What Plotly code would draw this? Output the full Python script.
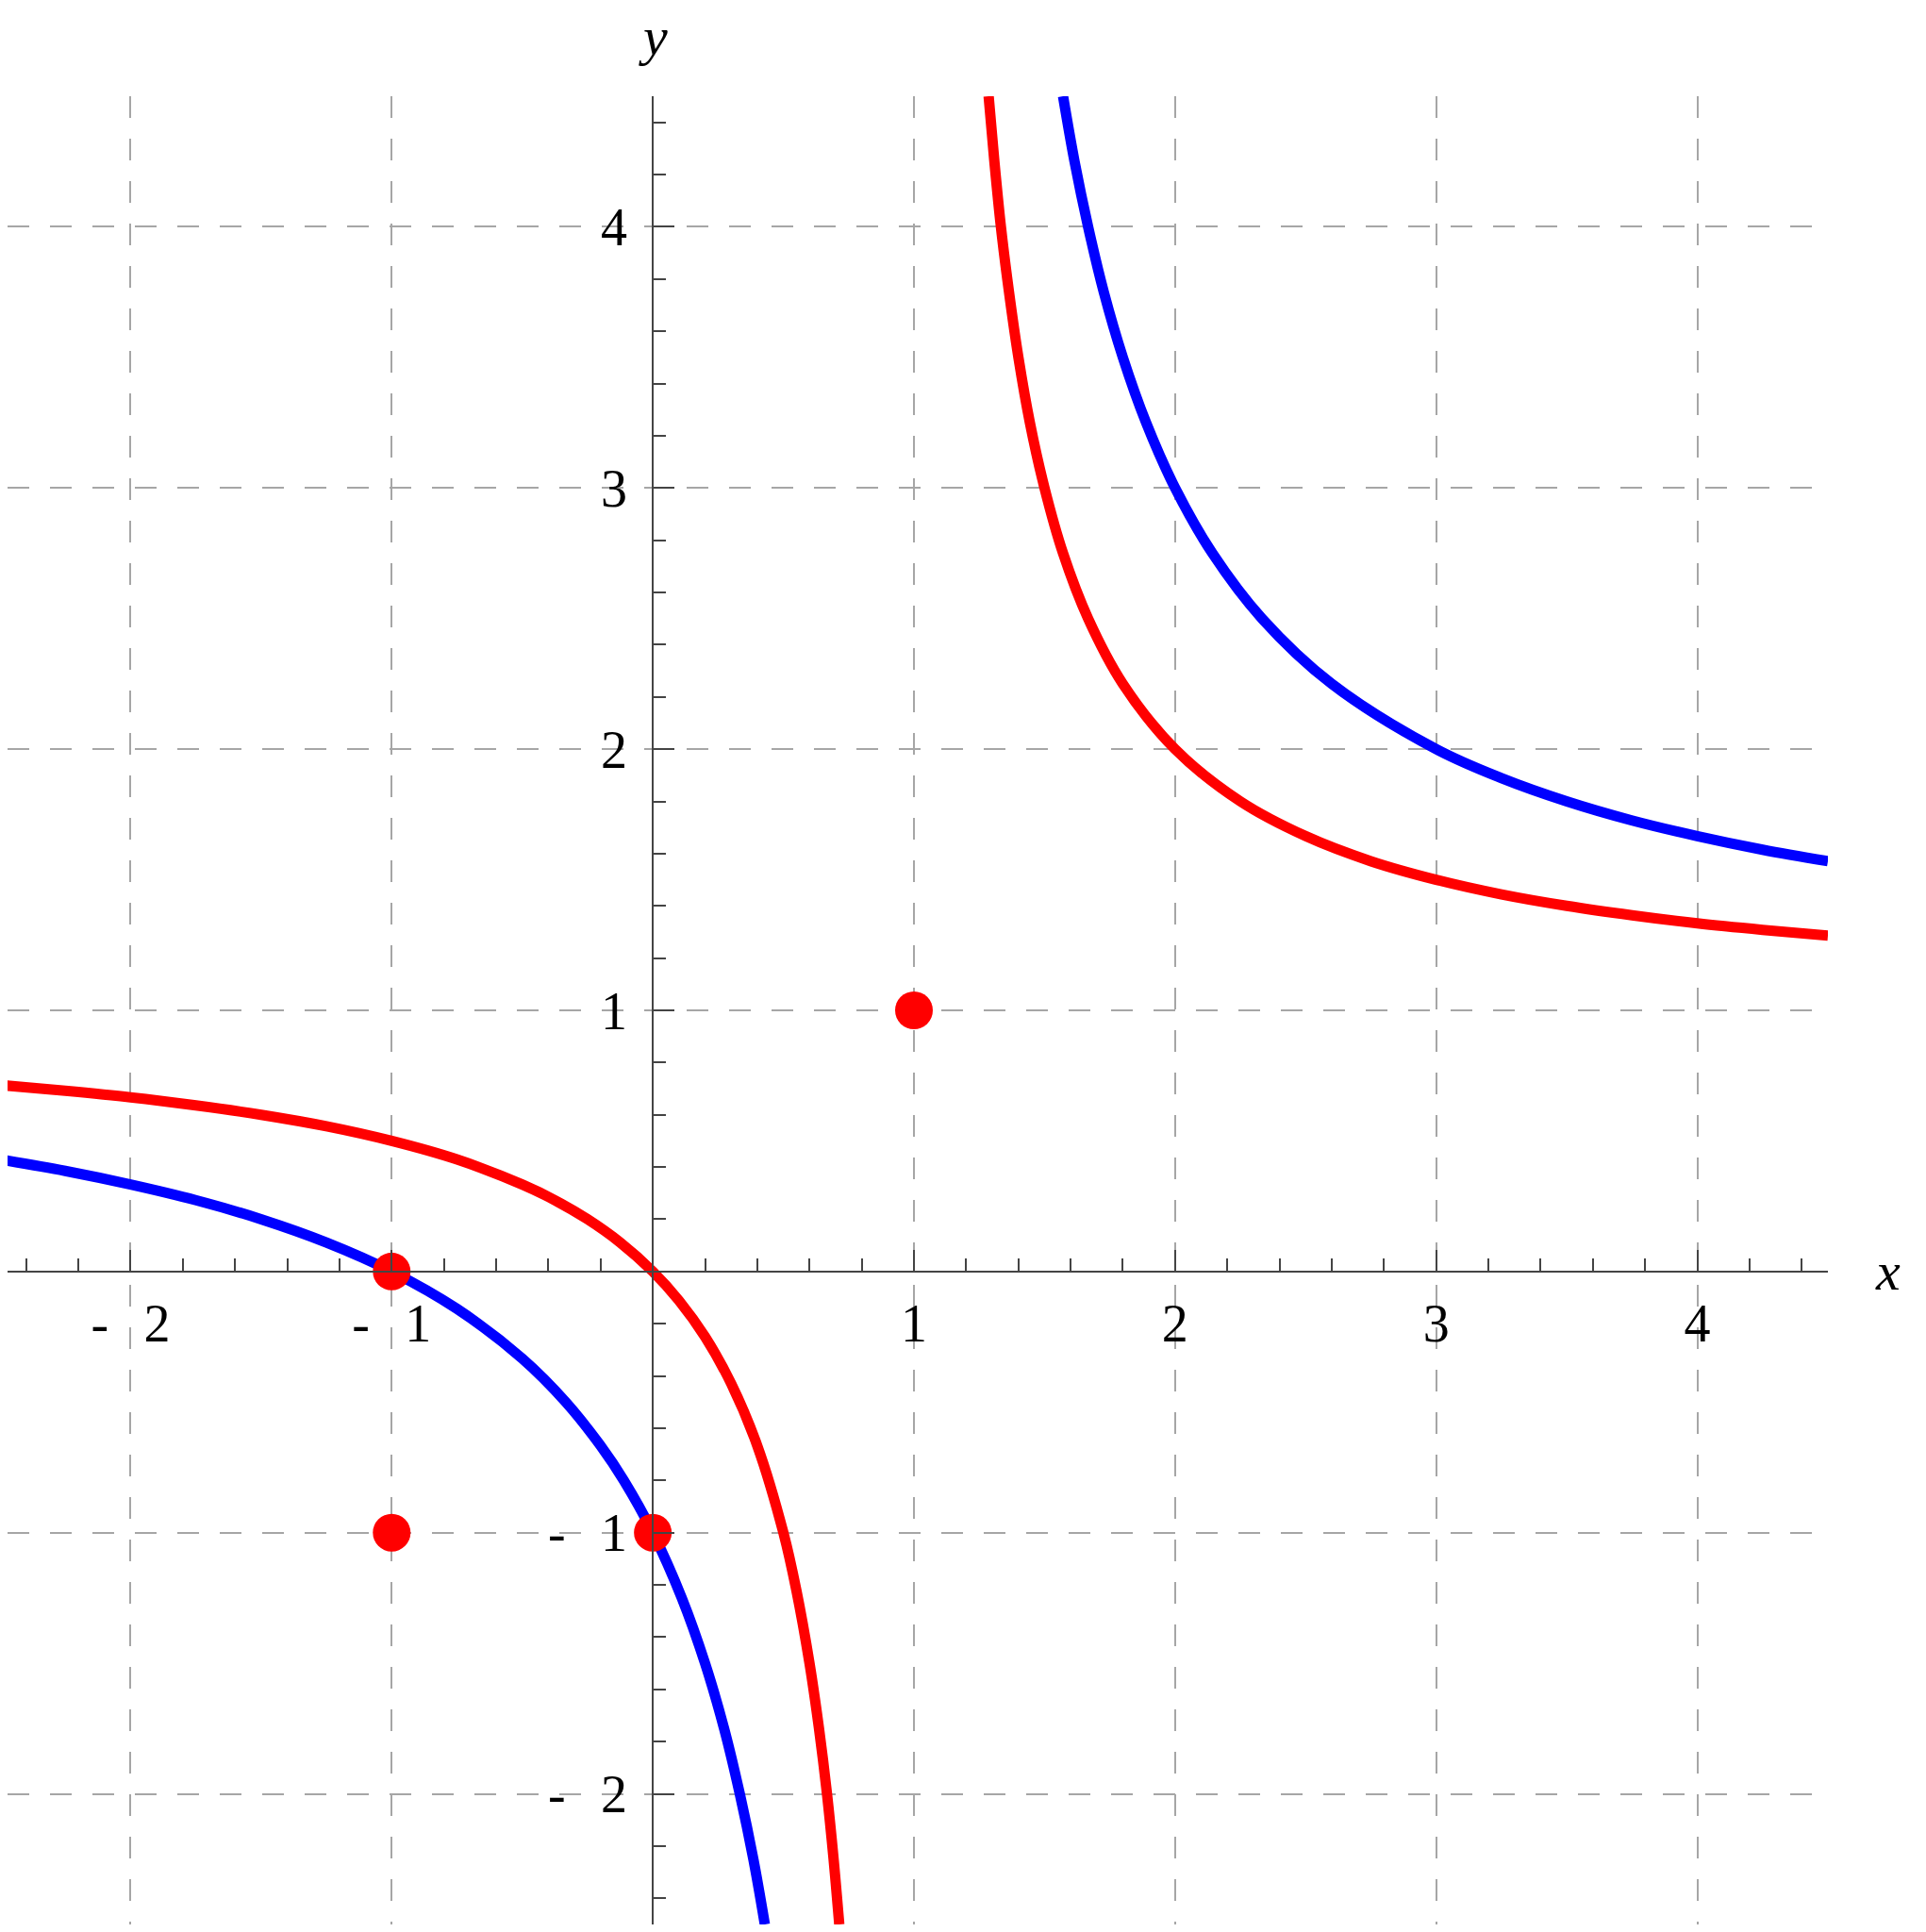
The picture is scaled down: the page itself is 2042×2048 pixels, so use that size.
import plotly.graph_objects as go

# values
red_left_x = [-2.5, -2.25, -2.0, -1.75, -1.5, -1.25, -1.0, -0.75, -0.5, -0.375, -0.25, -0.125,
              0.0, 0.1, 0.2, 0.3, 0.4, 0.5, 0.55, 0.6, 0.636, 0.667, 0.692, 0.714]
red_left_y = [0.714, 0.692, 0.667, 0.636, 0.6, 0.556, 0.5, 0.429, 0.333, 0.273, 0.2, 0.111,
              0.0, -0.111, -0.25, -0.429, -0.667, -1.0, -1.222, -1.5, -1.747, -2.0, -2.247, -2.5]
red_right_x = [1.286, 1.308, 1.333, 1.364, 1.4, 1.444, 1.5, 1.571, 1.667, 1.8, 2.0, 2.25, 2.5,
               2.75, 3.0, 3.25, 3.5, 3.75, 4.0, 4.25, 4.5]
red_right_y = [4.5, 4.25, 4.0, 3.75, 3.5, 3.25, 3.0, 2.75, 2.5, 2.25, 2.0, 1.8, 1.667,
               1.571, 1.5, 1.444, 1.4, 1.364, 1.333, 1.308, 1.286]

blue_left_x = [-2.5, -2.25, -2.0, -1.75, -1.5, -1.25, -1.0, -0.75, -0.5, -0.333, -0.2, -0.111,
               0.0, 0.111, 0.2, 0.273, 0.333, 0.385, 0.429]
blue_left_y = [0.429, 0.385, 0.333, 0.273, 0.2, 0.111, 0.0, -0.143, -0.333, -0.5, -0.667, -0.8,
               -1.0, -1.25, -1.5, -1.75, -2.0, -2.25, -2.5]
blue_right_x = [1.571, 1.615, 1.667, 1.727, 1.8, 1.889, 2.0, 2.143, 2.333, 2.6, 3.0, 3.25, 3.5,
                3.75, 4.0, 4.25, 4.5]
blue_right_y = [4.5, 4.25, 4.0, 3.75, 3.5, 3.25, 3.0, 2.75, 2.5, 2.25, 2.0, 1.889, 1.8,
                1.727, 1.667, 1.615, 1.571]

dots_x = [1, -1, -1, 0]
dots_y = [1, -1, 0, -1]

GAP = "\u00a0\u00a0\u2006"
x_ticks = [-2, -1, 1, 2, 3, 4]
x_labels = ["-" + GAP + "2", "-" + GAP + "1", "1", "2", "3", "4"]
y_ticks = [-2, -1, 1, 2, 3, 4]
y_labels = ["-" + GAP + "2", "-" + GAP + "1", "1", "2", "3", "4"]

RED = "#ff0000"
BLUE = "#0000ff"
FONT = "Liberation Serif"

# the page body adds 8px around the figure, so the left end of x is cut by that much
x_lo, x_hi = -2.5 + 8 / 276.857, 4.5
y_lo, y_hi = -2.5, 4.5

fig = go.Figure()

for xs, ys in [(red_left_x, red_left_y), (red_right_x, red_right_y)]:
    fig.add_trace(go.Scatter(x=xs, y=ys, mode="lines",
                             line=dict(color=RED, width=11, shape="spline", smoothing=1.0)))
for xs, ys in [(blue_left_x, blue_left_y), (blue_right_x, blue_right_y)]:
    fig.add_trace(go.Scatter(x=xs, y=ys, mode="lines",
                             line=dict(color=BLUE, width=11, shape="spline", smoothing=1.0)))

fig.add_trace(go.Scatter(x=dots_x, y=dots_y, mode="markers",
                         marker=dict(color=RED, size=40), cliponaxis=False))

axis_common = dict(
    anchor="free",
    automargin=False,
    showline=True, linecolor="#444", linewidth=2,
    ticks="inside", ticklen=22, tickwidth=2, tickcolor="#444",
    showgrid=True, gridcolor="#a6a6a6", gridwidth=1.5, griddash="23px,22px",
    zeroline=False,
    minor=dict(ticks="inside", ticklen=13, tickwidth=1.5, tickcolor="#444",
               tick0=0, dtick=0.2, showgrid=False),
    tickfont=dict(family=FONT, size=56, color="black"),
    fixedrange=True,
)

x0_paper = -x_lo / (x_hi - x_lo)
y0_paper = -y_lo / (y_hi - y_lo)

fig.update_layout(
    width=2034, height=2040,
    margin=dict(l=0, r=104, t=94, b=8),
    plot_bgcolor="white", paper_bgcolor="white",
    showlegend=False,
    xaxis=dict(axis_common, range=[x_lo, x_hi], position=y0_paper,
               tickvals=x_ticks, ticktext=x_labels, ticklabelstandoff=6),
    yaxis=dict(axis_common, range=[y_lo, y_hi], position=x0_paper,
               tickvals=y_ticks, ticktext=y_labels, ticklabelstandoff=15),
)

fig.add_annotation(x=(4.73 - x_lo) / (x_hi - x_lo), y=y0_paper, xref="paper", yref="paper",
                   text="<i>x</i>", showarrow=False,
                   font=dict(family=FONT, size=58, color="black"),
                   xanchor="center", yanchor="middle")
fig.add_annotation(x=x0_paper, y=(4.73 - y_lo) / (y_hi - y_lo), xref="paper", yref="paper",
                   text="<i>y</i>", showarrow=False,
                   font=dict(family=FONT, size=58, color="black"),
                   xanchor="center", yanchor="middle")

fig.write_html("out.html")
